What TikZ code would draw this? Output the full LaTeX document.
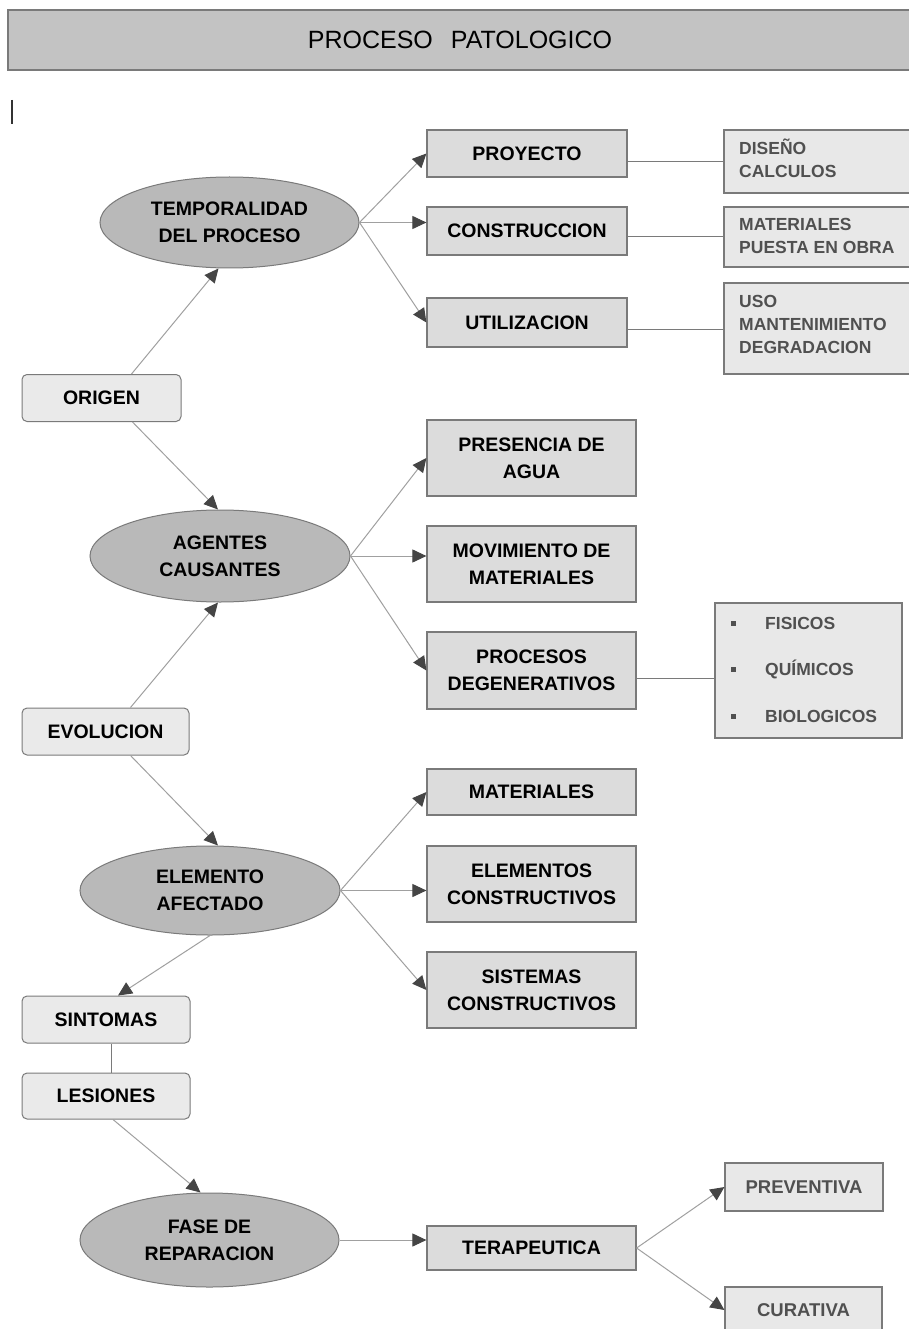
\documentclass[tikz,border=0pt]{standalone}
\usepackage{fontspec}
\setmainfont{Liberation Sans}
\usetikzlibrary{shapes.geometric,arrows.meta}
\definecolor{ellfill}{HTML}{B9B9B9}
\definecolor{boxfill}{HTML}{DCDCDC}
\definecolor{notefill}{HTML}{E8E8E8}
\definecolor{roundfill}{HTML}{EAEAEA}
\definecolor{edge}{HTML}{7A7A7A}
\definecolor{linkc}{HTML}{A0A0A0}
\definecolor{tipc}{HTML}{454545}
\definecolor{soft}{HTML}{505050}
\tikzset{
  base/.style={inner sep=0pt, font=\bfseries\fontsize{19.5}{27}\selectfont, align=center},
  oval/.style={base, ellipse, draw=edge, line width=1pt, fill=ellfill},
  mainbox/.style={base, rectangle, draw=edge, line width=1.2pt, fill=boxfill},
  notebox/.style={rectangle, inner sep=0pt, draw=edge, line width=1.2pt, fill=notefill},
  notetext/.style={inner sep=0pt, anchor=west, text=soft, font=\bfseries\fontsize{17.5}{23}\selectfont},
  roundbox/.style={base, rectangle, rounded corners=5pt, draw=edge, line width=1pt, fill=roundfill},
  link/.style={draw=linkc, line width=1pt},
  arr/.style={link, -{Triangle[length=14pt,width=13pt,color=tipc]}},
}
\begin{document}
\begin{tikzpicture}[x=1pt,y=-1pt]
\useasboundingbox[fill=white] (0,0) rectangle (908,1329);

% title bar
\node[rectangle, draw=edge, line width=1.5pt, fill=ellfill!85!white, minimum width=904pt, minimum height=60pt, inner sep=0pt,
      font=\fontsize{25}{28}\selectfont] (title) at (460,40) {PROCESO\hspace{18pt}PATOLOGICO};

% stray cursor mark
\draw[line width=1.3pt, black!80] (12,100) -- (12,124);

% ovals
\node[oval, minimum width=259pt, minimum height=91pt] (temp) at (229.5,222.5) {TEMPORALIDAD\\DEL PROCESO};
\node[oval, minimum width=260pt, minimum height=92pt] (agen) at (220,556) {AGENTES\\CAUSANTES};
\node[oval, minimum width=260pt, minimum height=89pt] (elem) at (210,890.5) {ELEMENTO\\AFECTADO};
\node[oval, minimum width=259pt, minimum height=94pt] (fase) at (209.5,1240) {FASE DE\\REPARACION};

% rounded boxes on the left
\node[roundbox, minimum width=159pt, minimum height=47pt] (orig) at (101.5,398) {ORIGEN};
\node[roundbox, minimum width=167pt, minimum height=47pt] (evol) at (105.5,731.5) {EVOLUCION};
\node[roundbox, minimum width=168pt, minimum height=47pt] (sint) at (106,1019.5) {SINTOMAS};
\node[roundbox, minimum width=168pt, minimum height=46pt] (lesi) at (106,1096) {LESIONES};

% first group
\node[mainbox, minimum width=200pt, minimum height=47pt] (proy) at (527,153.5) {PROYECTO};
\node[mainbox, minimum width=200pt, minimum height=48pt] (cons) at (527,231) {CONSTRUCCION};
\node[mainbox, minimum width=200pt, minimum height=49pt] (util) at (527,322.5) {UTILIZACION};

\node[notebox, minimum width=188pt, minimum height=63pt] (dise) at (818,161.5) {};
\node[notetext] (diset) at (739,161) {\begin{tabular}{@{}l@{}}DISEÑO\\CALCULOS\end{tabular}};
\node[notebox, minimum width=188pt, minimum height=60pt] (mate) at (818,237) {};
\node[notetext] (matet) at (739,237) {\begin{tabular}{@{}l@{}}MATERIALES\\PUESTA EN OBRA\end{tabular}};
\node[notebox, minimum width=188pt, minimum height=91pt] (uso) at (818,328.5) {};
\node[notetext] (usot) at (739,325.5) {\begin{tabular}{@{}l@{}}USO\\MANTENIMIENTO\\DEGRADACION\end{tabular}};

% second group
\node[mainbox, minimum width=209pt, minimum height=76pt] (pres) at (531.5,458) {PRESENCIA DE\\AGUA};
\node[mainbox, minimum width=209pt, minimum height=76pt] (movi) at (531.5,564) {MOVIMIENTO DE\\MATERIALES};
\node[mainbox, minimum width=209pt, minimum height=77pt] (proc) at (531.5,670.5) {PROCESOS\\DEGENERATIVOS};

\node[notebox, minimum width=187pt, minimum height=135pt] (list) at (808.5,670.5) {};
\node[notetext] (fis) at (765,623) {FISICOS};
\node[notetext] (qui) at (765,669) {QUÍMICOS};
\node[notetext] (bio) at (765,716) {BIOLOGICOS};
\fill[soft] (731,621) rectangle (736,626);
\fill[soft] (731,667) rectangle (736,672);
\fill[soft] (731,714) rectangle (736,719);

% third group
\node[mainbox, minimum width=209pt, minimum height=46pt] (matl) at (531.5,792) {MATERIALES};
\node[mainbox, minimum width=209pt, minimum height=76pt] (elco) at (531.5,884) {ELEMENTOS\\CONSTRUCTIVOS};
\node[mainbox, minimum width=209pt, minimum height=76pt] (sico) at (531.5,990) {SISTEMAS\\CONSTRUCTIVOS};

% repair group
\node[mainbox, minimum width=209pt, minimum height=44pt] (tera) at (531.5,1248) {TERAPEUTICA};
\node[notebox, minimum width=158pt, minimum height=48pt, text=soft, font=\bfseries\fontsize{18.5}{24}\selectfont] (prev) at (804,1187) {PREVENTIVA};
\node[notebox, minimum width=157pt, minimum height=46pt, text=soft, font=\bfseries\fontsize{18.5}{24}\selectfont] (cura) at (803.5,1310) {CURATIVA};

% connectors from the ovals
\draw[arr] (temp.east) -- (proy.west);
\draw[arr] (temp.east) -- (temp.east -| cons.west);
\draw[arr] (temp.east) -- (util.west);
\draw[arr] (agen.east) -- (pres.west);
\draw[arr] (agen.east) -- (agen.east -| movi.west);
\draw[arr] (agen.east) -- (proc.west);
\draw[arr] (elem.east) -- (matl.west);
\draw[arr] (elem.east) -- (elem.east -| elco.west);
\draw[arr] (elem.east) -- (sico.west);
\draw[arr] (fase.east) -- (fase.east -| tera.west);
\draw[arr] (tera.east) -- (prev.west);
\draw[arr] (tera.east) -- (cura.west);

% plain links to the notes
\draw[link, draw=edge] (proy.east |- 0,162) -- (dise.west |- 0,162);
\draw[link, draw=edge] (cons.east |- 0,237) -- (mate.west |- 0,237);
\draw[link, draw=edge] (util.east |- 0,329) -- (uso.west |- 0,329);
\draw[link, draw=edge] (proc.east |- 0,678) -- (list.west |- 0,678);

% the left-hand chain
\draw[arr] ([xshift=30pt]orig.north) -- ([xshift=-11pt]temp.south);
\draw[arr] ([xshift=31pt]orig.south) -- ([xshift=-2pt]agen.north);
\draw[arr] ([xshift=25pt]evol.north) -- ([xshift=-2pt]agen.south);
\draw[arr] ([xshift=25pt]evol.south) -- ([xshift=8pt]elem.north);
\draw[arr] (elem.south) -- ([xshift=12pt]sint.north);
\draw[link, draw=edge] ([xshift=5pt]sint.south) -- ([xshift=5pt]lesi.north);
\draw[arr] ([xshift=7pt]lesi.south) -- ([xshift=-9pt]fase.north);
\end{tikzpicture}
\end{document}
